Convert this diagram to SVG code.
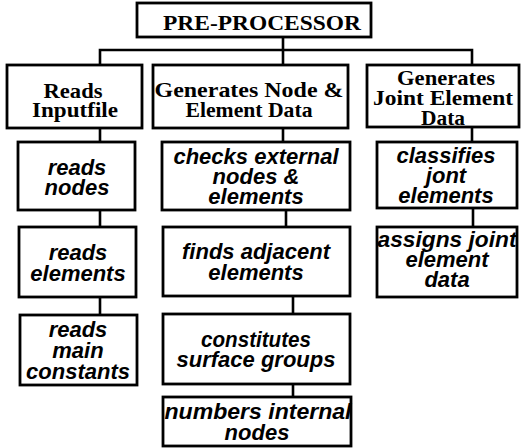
<svg xmlns="http://www.w3.org/2000/svg" width="521" height="448" viewBox="0 0 521 448">
  <style>
    .box { fill: #fff; stroke: #000; stroke-width: 2.8; }
    .head { font-family: "Liberation Serif", "Times New Roman", serif; font-weight: bold; font-size: 21px; fill: #000; text-anchor: middle; }
    .title { font-family: "Liberation Serif", "Times New Roman", serif; font-weight: bold; font-size: 22px; fill: #000; text-anchor: middle; }
    .task { font-family: "Liberation Sans", Arial, sans-serif; font-weight: bold; font-style: italic; font-size: 22px; fill: #000; text-anchor: middle; }
    .link { fill: none; stroke: #000; stroke-width: 2.6; }
  </style>
  <rect x="0" y="0" width="521" height="448" fill="#fff"/>

  <!-- connectors -->
  <g id="connectors" class="link">
    <path d="M283 37 V65"/>
    <path d="M100 65 V50 H472 V65"/>
    <path d="M100 128 V142 M100 210 V227 M100 297 V315"/>
    <path d="M283 128 V142 M286 210 V227 M293 296 V314 M293 384 V397"/>
    <path d="M472 127 V142 M473 208 V227"/>
  </g>

  <!-- root -->
  <g id="pre-processor">
    <rect class="box" x="137" y="3" width="234" height="34"/>
    <text class="title" x="262" y="30" textLength="198" lengthAdjust="spacingAndGlyphs">PRE-PROCESSOR</text>
  </g>

  <!-- second level -->
  <g id="reads-inputfile">
    <rect class="box" x="7" y="65" width="135" height="63"/>
    <text class="head" x="73" y="98" textLength="59" lengthAdjust="spacingAndGlyphs">Reads</text>
    <text class="head" x="75" y="117" textLength="86" lengthAdjust="spacingAndGlyphs">Inputfile</text>
  </g>
  <g id="generates-node-element">
    <rect class="box" x="153" y="65" width="195" height="63"/>
    <text class="head" x="249" y="97" textLength="189" lengthAdjust="spacingAndGlyphs">Generates Node &amp;</text>
    <text class="head" x="249" y="117" textLength="127" lengthAdjust="spacingAndGlyphs">Element Data</text>
  </g>
  <g id="generates-joint-element">
    <rect class="box" x="367" y="65" width="152" height="62"/>
    <text class="head" x="446" y="85" textLength="98" lengthAdjust="spacingAndGlyphs">Generates</text>
    <text class="head" x="443" y="105" textLength="140" lengthAdjust="spacingAndGlyphs">Joint Element</text>
    <text class="head" x="443" y="125" textLength="44" lengthAdjust="spacingAndGlyphs">Data</text>
  </g>

  <!-- column 1 -->
  <g id="reads-nodes">
    <rect class="box" x="18" y="142" width="117" height="68"/>
    <text class="task" x="77" y="175">reads</text>
    <text class="task" x="77" y="195">nodes</text>
  </g>
  <g id="reads-elements">
    <rect class="box" x="19" y="227" width="117" height="70"/>
    <text class="task" x="78" y="260">reads</text>
    <text class="task" x="78" y="281">elements</text>
  </g>
  <g id="reads-main-constants">
    <rect class="box" x="20" y="315" width="117" height="70"/>
    <text class="task" x="78" y="337">reads</text>
    <text class="task" x="78" y="358">main</text>
    <text class="task" x="78" y="379">constants</text>
  </g>

  <!-- column 2 -->
  <g id="checks-external">
    <rect class="box" x="162" y="142" width="188" height="68"/>
    <text class="task" x="256" y="164">checks external</text>
    <text class="task" x="256" y="184">nodes &amp;</text>
    <text class="task" x="256" y="204">elements</text>
  </g>
  <g id="finds-adjacent">
    <rect class="box" x="163" y="227" width="187" height="69"/>
    <text class="task" x="256" y="259">finds adjacent</text>
    <text class="task" x="256" y="280">elements</text>
  </g>
  <g id="constitutes-surface-groups">
    <rect class="box" x="163" y="314" width="187" height="70"/>
    <text class="task" x="256" y="347" textLength="110" lengthAdjust="spacingAndGlyphs">constitutes</text>
    <text class="task" x="256" y="367">surface groups</text>
  </g>
  <g id="numbers-internal-nodes">
    <rect class="box" x="163" y="397" width="188" height="49"/>
    <text class="task" x="258" y="419" textLength="187" lengthAdjust="spacingAndGlyphs">numbers internal</text>
    <text class="task" x="257" y="440">nodes</text>
  </g>

  <!-- column 3 -->
  <g id="classifies-joint">
    <rect class="box" x="377" y="142" width="140" height="66"/>
    <text class="task" x="446" y="163">classifies</text>
    <text class="task" x="446" y="183">jont</text>
    <text class="task" x="446" y="203">elements</text>
  </g>
  <g id="assigns-joint-data">
    <rect class="box" x="377" y="227" width="140" height="70"/>
    <text class="task" x="447" y="247" textLength="139" lengthAdjust="spacingAndGlyphs">assigns joint</text>
    <text class="task" x="447" y="267">element</text>
    <text class="task" x="447" y="287">data</text>
  </g>
</svg>
